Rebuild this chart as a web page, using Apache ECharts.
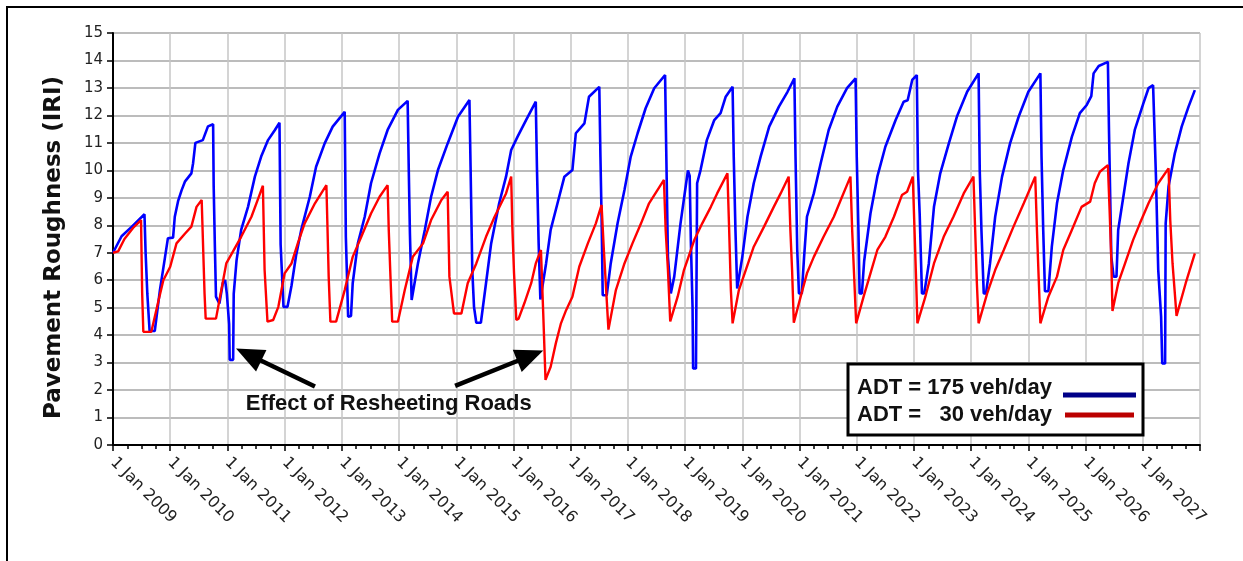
<!DOCTYPE html>
<html>
<head>
<meta charset="utf-8">
<script src="https://cdn.jsdelivr.net/npm/echarts@6/dist/echarts.min.js"></script>
<style>
  html, body { margin: 0; padding: 0; background: #fff; }
  #chart { width: 1243px; height: 561px; }
</style>
</head>
<body>
<div id="chart"></div>
<script>
// [decimal year, IRI]
var adt175 = [
  [2009.00, 7.0], [2009.15, 7.6], [2009.33, 7.95], [2009.55, 8.4], [2009.57, 7.0], [2009.60, 5.5],
  [2009.64, 4.15], [2009.73, 4.15], [2009.82, 5.64], [2009.91, 6.85], [2009.96, 7.53], [2010.05, 7.55],
  [2010.08, 8.31], [2010.14, 8.9], [2010.20, 9.28], [2010.26, 9.6], [2010.37, 9.89], [2010.40, 10.26],
  [2010.44, 11.0], [2010.57, 11.1], [2010.66, 11.6], [2010.75, 11.68], [2010.76, 9.4], [2010.78, 7.3],
  [2010.80, 5.4], [2010.86, 5.15], [2010.92, 5.9], [2010.96, 6.0], [2010.99, 5.5], [2011.03, 4.4],
  [2011.04, 3.1], [2011.10, 3.1], [2011.11, 5.5], [2011.16, 6.73], [2011.24, 7.83], [2011.36, 8.67],
  [2011.48, 9.77], [2011.59, 10.5], [2011.71, 11.1], [2011.83, 11.47], [2011.91, 11.73], [2011.93, 7.3],
  [2011.98, 5.03], [2012.05, 5.03], [2012.12, 5.8], [2012.20, 6.9], [2012.29, 7.83], [2012.44, 9.04],
  [2012.55, 10.13], [2012.70, 10.98], [2012.84, 11.59], [2013.05, 12.13], [2013.07, 7.58], [2013.11, 4.67],
  [2013.16, 4.7], [2013.19, 5.89], [2013.28, 7.34], [2013.40, 8.31], [2013.51, 9.53], [2013.66, 10.62],
  [2013.80, 11.47], [2013.98, 12.2], [2014.15, 12.53], [2014.17, 10.0], [2014.19, 7.7], [2014.22, 5.28],
  [2014.25, 5.3], [2014.33, 6.61], [2014.45, 7.83], [2014.56, 9.04], [2014.68, 10.01], [2014.85, 10.98],
  [2015.03, 11.95], [2015.23, 12.56], [2015.25, 10.13], [2015.28, 6.37], [2015.31, 5.03], [2015.35, 4.45],
  [2015.43, 4.45], [2015.52, 5.89], [2015.61, 7.34], [2015.75, 8.8], [2015.87, 9.77], [2015.96, 10.74],
  [2016.07, 11.22], [2016.22, 11.83], [2016.39, 12.5], [2016.41, 10.13], [2016.44, 7.34], [2016.47, 5.3],
  [2016.50, 5.3], [2016.57, 6.61], [2016.65, 7.83], [2016.77, 8.8], [2016.89, 9.77], [2017.03, 10.01],
  [2017.09, 11.35], [2017.24, 11.71], [2017.32, 12.68], [2017.50, 13.04], [2017.52, 10.5], [2017.54, 8.3],
  [2017.56, 5.45], [2017.63, 5.45], [2017.70, 6.61], [2017.82, 8.07], [2017.94, 9.28], [2018.05, 10.5],
  [2018.17, 11.35], [2018.31, 12.26], [2018.46, 12.99], [2018.65, 13.47], [2018.67, 10.74], [2018.70, 6.85],
  [2018.75, 5.52], [2018.81, 6.13], [2018.92, 8.07], [2019.01, 9.41], [2019.05, 10.0], [2019.08, 9.8],
  [2019.10, 7.46], [2019.13, 5.03], [2019.14, 2.79], [2019.19, 2.79], [2019.21, 9.53], [2019.27, 10.01],
  [2019.38, 11.1], [2019.51, 11.83], [2019.62, 12.08], [2019.71, 12.68], [2019.83, 13.04], [2019.85, 10.5],
  [2019.88, 7.83], [2019.91, 5.7], [2019.94, 5.7], [2020.00, 6.85], [2020.09, 8.31], [2020.20, 9.53],
  [2020.32, 10.5], [2020.47, 11.59], [2020.64, 12.32], [2020.79, 12.86], [2020.91, 13.35], [2020.93, 10.5],
  [2020.96, 7.1], [2020.99, 5.52], [2021.04, 5.52], [2021.08, 6.85], [2021.13, 8.31], [2021.25, 9.16],
  [2021.37, 10.26], [2021.51, 11.47], [2021.66, 12.32], [2021.83, 12.99], [2021.98, 13.35], [2022.00, 10.5],
  [2022.03, 7.8], [2022.05, 5.52], [2022.09, 5.52], [2022.13, 6.7], [2022.24, 8.43], [2022.36, 9.77],
  [2022.50, 10.86], [2022.68, 11.83], [2022.82, 12.5], [2022.89, 12.55], [2022.97, 13.29], [2023.05, 13.47],
  [2023.07, 10.01], [2023.10, 8.43], [2023.14, 5.52], [2023.18, 5.52], [2023.26, 6.61], [2023.35, 8.67],
  [2023.46, 9.89], [2023.61, 10.98], [2023.75, 11.95], [2023.93, 12.86], [2024.13, 13.53], [2024.15, 10.0],
  [2024.18, 7.8], [2024.22, 5.52], [2024.26, 5.52], [2024.33, 6.61], [2024.42, 8.31], [2024.54, 9.77],
  [2024.68, 10.98], [2024.83, 11.95], [2025.00, 12.86], [2025.21, 13.53], [2025.23, 10.5], [2025.26, 7.8],
  [2025.29, 5.6], [2025.35, 5.6], [2025.41, 7.22], [2025.50, 8.8], [2025.61, 10.01], [2025.76, 11.22],
  [2025.90, 12.08], [2026.02, 12.38], [2026.10, 12.7], [2026.14, 13.53], [2026.23, 13.8], [2026.39, 13.95],
  [2026.41, 11.35], [2026.45, 6.85], [2026.49, 6.13], [2026.54, 6.13], [2026.57, 7.83], [2026.66, 9.04],
  [2026.75, 10.26], [2026.86, 11.47], [2027.01, 12.44], [2027.10, 12.99], [2027.18, 13.1], [2027.21, 13.1],
  [2027.23, 9.77], [2027.27, 6.37], [2027.32, 4.67], [2027.34, 2.97], [2027.39, 2.97], [2027.40, 8.07],
  [2027.45, 9.41], [2027.56, 10.62], [2027.68, 11.59], [2027.80, 12.32], [2027.91, 12.92]
];

var adt30 = [
  [2009.00, 7.0], [2009.09, 7.05], [2009.20, 7.5], [2009.35, 7.9], [2009.49, 8.19], [2009.51, 5.52],
  [2009.53, 4.12], [2009.67, 4.12], [2009.80, 5.3], [2009.88, 6.0], [2010.00, 6.49], [2010.11, 7.34],
  [2010.26, 7.7], [2010.37, 7.95], [2010.46, 8.67], [2010.55, 8.92], [2010.58, 8.9], [2010.60, 5.52],
  [2010.62, 4.6], [2010.80, 4.6], [2010.98, 6.61], [2011.24, 7.58], [2011.42, 8.31], [2011.56, 9.1],
  [2011.62, 9.44], [2011.65, 6.37], [2011.70, 4.49], [2011.80, 4.55], [2011.89, 5.03], [2012.00, 6.25],
  [2012.12, 6.61], [2012.23, 7.34], [2012.35, 8.07], [2012.53, 8.8], [2012.73, 9.46], [2012.75, 7.83],
  [2012.77, 6.13], [2012.80, 4.49], [2012.90, 4.49], [2013.05, 5.64], [2013.19, 6.85], [2013.34, 7.58],
  [2013.51, 8.43], [2013.66, 9.04], [2013.80, 9.46], [2013.82, 7.83], [2013.85, 6.13], [2013.88, 4.49],
  [2013.98, 4.49], [2014.10, 5.64], [2014.24, 6.85], [2014.42, 7.34], [2014.56, 8.19], [2014.74, 8.92],
  [2014.85, 9.22], [2014.88, 6.13], [2014.96, 4.79], [2015.09, 4.79], [2015.20, 5.89], [2015.35, 6.61],
  [2015.52, 7.58], [2015.67, 8.31], [2015.87, 9.16], [2015.96, 9.77], [2015.98, 7.95], [2016.01, 6.25],
  [2016.05, 4.55], [2016.09, 4.6], [2016.19, 5.16], [2016.31, 5.89], [2016.39, 6.61], [2016.48, 7.1],
  [2016.52, 4.8], [2016.56, 2.37], [2016.65, 2.85], [2016.74, 3.7], [2016.83, 4.43], [2016.92, 4.91],
  [2017.03, 5.4], [2017.15, 6.49], [2017.30, 7.34], [2017.44, 8.07], [2017.54, 8.74], [2017.58, 7.1],
  [2017.66, 4.2], [2017.79, 5.64], [2017.94, 6.61], [2018.08, 7.34], [2018.23, 8.07], [2018.37, 8.8],
  [2018.63, 9.65], [2018.66, 7.83], [2018.70, 6.37], [2018.74, 4.5], [2018.87, 5.4], [2018.98, 6.37],
  [2019.16, 7.46], [2019.30, 8.07], [2019.45, 8.67], [2019.56, 9.16], [2019.74, 9.89], [2019.77, 7.83],
  [2019.80, 5.64], [2019.83, 4.43], [2019.94, 5.64], [2020.06, 6.37], [2020.20, 7.22], [2020.38, 7.95],
  [2020.55, 8.67], [2020.67, 9.16], [2020.81, 9.77], [2020.84, 7.83], [2020.87, 6.37], [2020.90, 4.45],
  [2021.02, 5.4], [2021.13, 6.25], [2021.25, 6.85], [2021.42, 7.58], [2021.60, 8.31], [2021.72, 8.92],
  [2021.89, 9.77], [2021.92, 7.83], [2021.96, 5.89], [2021.99, 4.43], [2022.12, 5.4], [2022.24, 6.25],
  [2022.36, 7.1], [2022.50, 7.58], [2022.65, 8.31], [2022.79, 9.1], [2022.88, 9.22], [2022.98, 9.77],
  [2023.01, 7.83], [2023.04, 5.89], [2023.06, 4.43], [2023.20, 5.4], [2023.35, 6.61], [2023.52, 7.58],
  [2023.69, 8.31], [2023.87, 9.16], [2024.04, 9.77], [2024.07, 7.83], [2024.10, 5.89], [2024.13, 4.43],
  [2024.28, 5.52], [2024.42, 6.37], [2024.57, 7.1], [2024.74, 7.95], [2024.92, 8.8], [2025.12, 9.77],
  [2025.15, 7.83], [2025.18, 6.1], [2025.21, 4.43], [2025.35, 5.4], [2025.50, 6.13], [2025.61, 7.1],
  [2025.76, 7.83], [2025.93, 8.67], [2026.08, 8.86], [2026.16, 9.53], [2026.25, 9.95], [2026.39, 10.19],
  [2026.42, 8.55], [2026.45, 6.73], [2026.47, 4.88], [2026.57, 5.89], [2026.69, 6.61], [2026.83, 7.46],
  [2026.95, 8.07], [2027.10, 8.8], [2027.27, 9.53], [2027.45, 10.07], [2027.48, 8.19], [2027.52, 6.61],
  [2027.59, 4.7], [2027.75, 5.89], [2027.91, 6.98]
];

var legendNames = ['ADT = 175 veh/day', 'ADT =   30 veh/day'];
var noteText = 'Effect of Resheeting Roads';
var notePos = [2013.82, 1.49];
// arrows: [tail, tip] in data units
var arrows = [
  [[2012.53, 2.13], [2011.15, 3.51]],
  [[2014.98, 2.15], [2016.52, 3.44]]
];

var chart = echarts.init(document.getElementById('chart'));

var option = {
  animation: false,
  backgroundColor: '#fff',
  grid: { left: 113, right: 43, top: 33, bottom: 116, containLabel: false },
  xAxis: {
    type: 'value',
    min: 2009,
    max: 2028,
    interval: 1,
    axisLine: { show: true, lineStyle: { color: '#000', width: 2 } },
    axisTick: { show: true, length: 6, lineStyle: { color: '#000', width: 1.5 } },
    minorTick: { show: true, splitNumber: 4, length: 4, lineStyle: { color: '#000', width: 1.5 } },
    splitLine: { show: true, lineStyle: { color: '#c6c6c6', width: 1.5 } },
    axisLabel: {
      rotate: -45,
      margin: 15,
      color: '#222',
      fontFamily: 'DejaVu Sans',
      fontSize: 16,
      showMaxLabel: false,
      formatter: function (v) { return v > 2027 ? '' : '1 Jan ' + v; }
    }
  },
  yAxis: {
    type: 'value',
    min: 0,
    max: 15,
    interval: 1,
    name: 'Pavement Roughness (IRI)',
    nameLocation: 'middle',
    nameGap: 47,
    nameTextStyle: {
      fontFamily: 'DejaVu Sans', fontWeight: 'bold', fontSize: 23, color: '#111',
      padding: [0, 17, 0, 0]
    },
    axisLine: { show: true, lineStyle: { color: '#000', width: 2 } },
    axisTick: { show: true, length: 6, lineStyle: { color: '#000', width: 1.5 } },
    splitLine: { show: true, lineStyle: { color: '#a6a6a6', width: 1.5 } },
    axisLabel: { margin: 10, color: '#222', fontFamily: 'DejaVu Sans', fontSize: 15 }
  },
  series: [
    {
      name: legendNames[0],
      type: 'line',
      data: adt175,
      symbol: 'none',
      lineStyle: { color: '#0000ff', width: 2.6 },
      itemStyle: { color: '#0000ff' }
    },
    {
      name: legendNames[1],
      type: 'line',
      data: adt30,
      symbol: 'none',
      lineStyle: { color: '#ff0000', width: 2.4 },
      itemStyle: { color: '#ff0000' },
      markPoint: {
        silent: true,
        symbol: 'circle',
        symbolSize: 1,
        itemStyle: { color: 'rgba(0,0,0,0)' },
        label: {
          show: true,
          position: 'inside',
          formatter: noteText,
          color: '#111',
          fontFamily: 'Liberation Sans',
          fontWeight: 'bold',
          fontSize: 22
        },
        data: [{ coord: notePos }]
      }
    }
  ]
};

chart.setOption(option);

// arrows are anchored in data units, turned into shapes after layout
var arrowShapes = [];
arrows.forEach(function (a, i) {
  var p0 = chart.convertToPixel({ gridIndex: 0 }, a[0]);
  var p1 = chart.convertToPixel({ gridIndex: 0 }, a[1]);
  var dx = p1[0] - p0[0], dy = p1[1] - p0[1];
  var len = Math.sqrt(dx * dx + dy * dy);
  var ux = dx / len, uy = dy / len;
  var headLen = 28, headHalf = 12;
  var bx = p1[0] - ux * headLen, by = p1[1] - uy * headLen;
  arrowShapes.push({
    type: 'line', id: 'shaft' + i, z: 100,
    shape: { x1: p0[0], y1: p0[1], x2: bx + ux * 4, y2: by + uy * 4 },
    style: { stroke: '#000', lineWidth: 4.5 }
  });
  arrowShapes.push({
    type: 'polygon', id: 'head' + i, z: 100,
    shape: { points: [
      [p1[0], p1[1]],
      [bx - uy * headHalf, by + ux * headHalf],
      [bx + uy * headHalf, by - ux * headHalf]
    ] },
    style: { fill: '#000' }
  });
});

chart.setOption({
  graphic: [
    {
      type: 'rect', id: 'frame', z: 100,
      shape: { x: 7, y: 7, width: 1300, height: 600 },
      style: { fill: 'none', stroke: '#000', lineWidth: 2 }
    },
    {
      type: 'group', id: 'legendBox', z: 100,
      children: [
        { type: 'rect', shape: { x: 848, y: 364, width: 295, height: 71 },
          style: { fill: '#fff', stroke: '#000', lineWidth: 3 } },
        { type: 'text', x: 857, y: 388,
          style: { text: legendNames[0], fill: '#111', font: 'bold 22px "Liberation Sans"', verticalAlign: 'middle' } },
        { type: 'text', x: 857, y: 415,
          style: { text: legendNames[1], fill: '#111', font: 'bold 22px "Liberation Sans"', verticalAlign: 'middle' } },
        { type: 'line', shape: { x1: 1063, y1: 395, x2: 1136, y2: 395 },
          style: { stroke: '#000088', lineWidth: 5 } },
        { type: 'line', shape: { x1: 1065, y1: 415, x2: 1134, y2: 415 },
          style: { stroke: '#bb0000', lineWidth: 5 } }
      ]
    }
  ].concat(arrowShapes)
});
</script>
</body>
</html>
